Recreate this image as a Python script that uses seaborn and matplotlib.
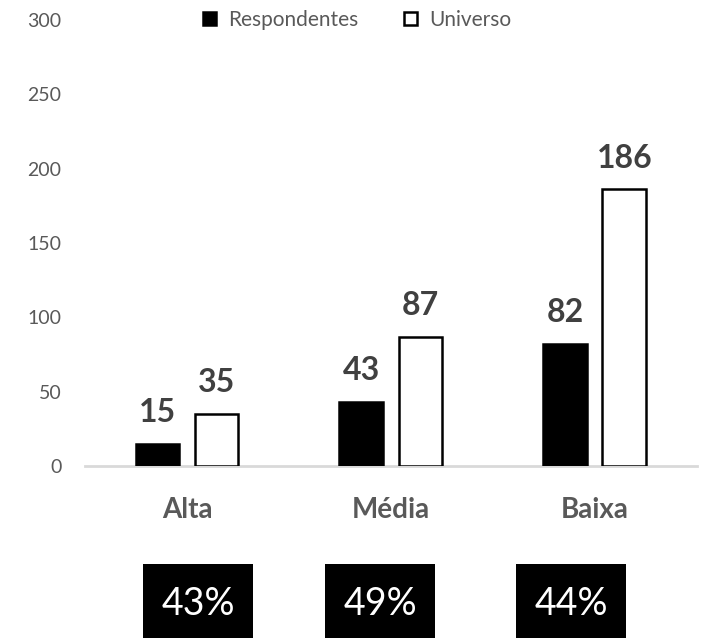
import pandas as pd
import matplotlib.pyplot as plt
import seaborn as sns
from matplotlib.patches import Rectangle

categorias = ["Alta", "Média", "Baixa"]
respondentes = [15, 43, 82]
universo = [35, 87, 186]
percentuais = ["43%", "49%", "44%"]
yticks = [0, 50, 100, 150, 200, 250, 300]

sns.set_style("white")
plt.rcParams["font.family"] = ["Lato", "DejaVu Sans"]

df = pd.DataFrame({
    "categoria": categorias * 2,
    "valor": respondentes + universo,
    "serie": ["Respondentes"] * 3 + ["Universo"] * 3,
})

fig = plt.figure(figsize=(7.03, 6.38), dpi=100)
ax = fig.add_axes([0.121, 0.2696, 0.870, 0.6991])

sns.barplot(
    data=df, x="categoria", y="valor", hue="serie",
    palette={"Respondentes": "black", "Universo": "white"},
    width=0.58, gap=0.26, edgecolor="black", linewidth=1.8,
    ax=ax,
)

ax.set_ylim(0, 300)
ax.set_yticks(yticks)
ax.set_xlim(-0.5, 2.5)
ax.set_xlabel("")
ax.set_ylabel("")
for s in ["top", "right", "left"]:
    ax.spines[s].set_visible(False)
ax.spines["bottom"].set_color("#D9D9D9")
ax.spines["bottom"].set_linewidth(2)
ax.spines["bottom"].set_zorder(0)
ax.tick_params(axis="y", length=0, pad=17, labelsize=14, labelcolor="#595959")
ax.tick_params(axis="x", length=0, pad=22, labelsize=20, labelcolor="#595959")
for t in ax.get_xticklabels():
    t.set_fontweight("bold")

for cont in ax.containers:
    ax.bar_label(cont, padding=12, fontsize=23, fontweight="bold", color="#404040")

handles, labels = ax.get_legend_handles_labels()
ax.legend(handles, labels, loc="center", bbox_to_anchor=(0.508, 0.969),
          bbox_transform=fig.transFigure, ncol=2, frameon=False,
          fontsize=15, labelcolor="#595959", handlelength=0.6, handleheight=0.6,
          handletextpad=0.6, columnspacing=2.2)

box_x = [143, 325, 516]
for x0, txt in zip(box_x, percentuais):
    fig.patches.append(Rectangle((x0 / 703, 0), 110 / 703, 74 / 638,
                                 transform=fig.transFigure, facecolor="black",
                                 edgecolor="none"))
    fig.text((x0 + 55) / 703, 34 / 638, txt, ha="center", va="center",
             color="white", fontsize=27)

fig.savefig("out.png", dpi=100)
